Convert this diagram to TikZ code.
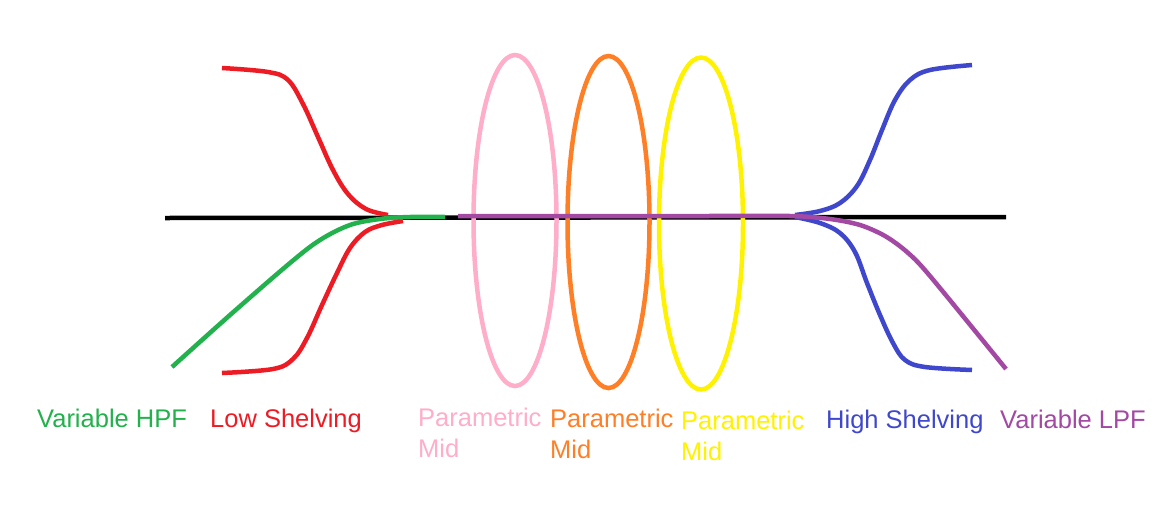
\documentclass[tikz,border=0pt]{standalone}
\usepackage{fontspec}
\setmainfont{Liberation Sans}
\definecolor{cblack}{HTML}{000000}
\definecolor{cred}{HTML}{ED1C24}
\definecolor{cgreen}{HTML}{22B14C}
\definecolor{cblue}{HTML}{3F48CC}
\definecolor{cpurple}{HTML}{A349A4}
\definecolor{cpink}{HTML}{FFAEC9}
\definecolor{corange}{HTML}{FF7F27}
\definecolor{cyellow}{HTML}{FFF200}
\tikzset{
  curve/.style={line width=4.5pt, line join=round},
  band/.style={line width=4.5pt},
  lbl/.style={anchor=base west, inner sep=0pt, font=\fontsize{25.5}{31}\selectfont, align=left},
}
\begin{document}
\begin{tikzpicture}[x=1pt,y=-1pt]
\useasboundingbox[fill=white] (0,0) rectangle (1159,504);
% axis
\coordinate (axL) at (165,218);
\coordinate (axR) at (1006,217);
\draw[curve, cblack] (axL) -- (axR);
% ellipses
\node (pinkmid) at (515,220.5) {};
\node (orangemid) at (608.5,222) {};
\node (yellowmid) at (701,223.5) {};
\draw[band, cpink] (pinkmid.center) ellipse [x radius=41.5, y radius=165.5];
\draw[band, corange] (orangemid.center) ellipse [x radius=41, y radius=166];
\draw[band, cyellow] (yellowmid.center) ellipse [x radius=42, y radius=166];
% low shelving
\draw[curve, cred] plot[smooth, tension=0.6] coordinates {(222,68) (268,72) (288,80) (303,104) (318,137) (333,170) (348,194) (366,209) (388,215)};
\draw[curve, cred] plot[smooth, tension=0.6] coordinates {(403,221) (382,225) (365,232) (350,248) (337,273) (322,305) (307,338) (293,359) (273,369) (222,373)};
% HPF
\draw[curve, cgreen] plot[smooth, tension=0.55] coordinates {(172,367) (230,315) (290,263) (320,240) (350,225) (380,219) (410,217) (445,217)};
% high shelving
\draw[curve, cblue] plot[smooth, tension=0.6] coordinates {(795,215) (820,211) (840,203) (857,186) (870,160) (882,130) (895,100) (910,80) (930,70) (972,65)};
\draw[curve, cblue] plot[smooth, tension=0.6] coordinates {(795,217) (820,223) (840,233) (855,252) (867,283) (880,315) (893,343) (905,360) (925,367) (972,370)};
% LPF
\draw[curve, cpurple] plot[smooth, tension=0.5] coordinates {(458,216) (700,216) (790,216) (830,219) (860,225) (885,236) (907,252) (930,276) (1006,369)};
% labels
\node[lbl, text=cgreen] (hpf) at (37,427) {Variable HPF};
\node[lbl, text=cred] (lows) at (210,427) {Low Shelving};
\node[lbl, text=cpink] (pm1) at (418,457) {Parametric\\Mid};
\node[lbl, text=corange] (pm2) at (550,458) {Parametric\\Mid};
\node[lbl, text=cyellow] (pm3) at (681,460) {Parametric\\Mid};
\node[lbl, text=cblue] (highs) at (826,428) {High Shelving};
\node[lbl, text=cpurple] (lpf) at (1000,428) {Variable LPF};
\end{tikzpicture}
\end{document}
